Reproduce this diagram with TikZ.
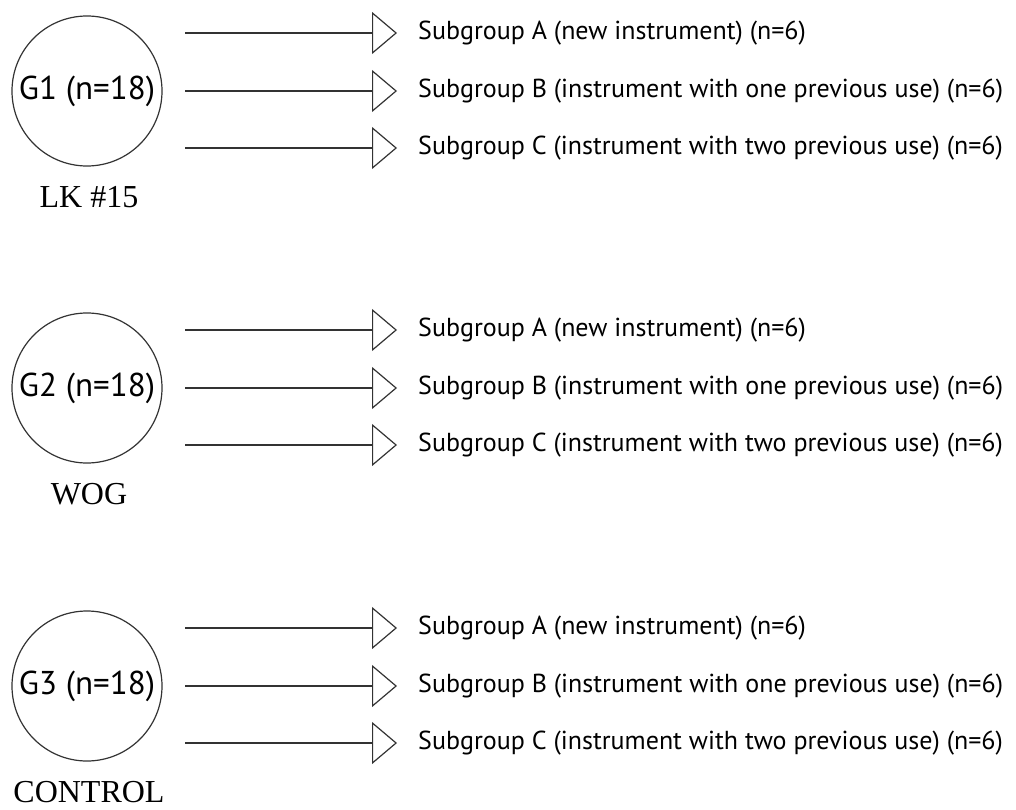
\documentclass[tikz,border=0pt]{standalone}
\usepackage{fontspec}
\setmainfont{Liberation Serif}
\newfontfamily\labsans{PT Sans}
\usetikzlibrary{arrows.meta}
\tikzset{
  grp/.style={circle, draw=black!80, line width=1.2pt, minimum size=150pt, inner sep=0pt, font=\labsans\fontsize{33}{37}\selectfont},
  sub/.style={anchor=west, inner xsep=21pt, inner ysep=0pt, font=\labsans\fontsize{26}{30}\selectfont, text=black},
  lab/.style={font=\fontsize{32}{36}\selectfont},
  arr/.style={draw=black!80, line width=1.2pt, -{Triangle[open, length=25pt, width=42pt, line width=1.2pt]}}
}
\begin{document}
\begin{tikzpicture}[x=1pt, y=-1pt]
\useasboundingbox (0,0) rectangle (1016,810);
\foreach \g/\cy/\lb in {1/91/{LK \#15}, 2/388/WOG, 3/686/CONTROL}{
  \node[grp] (g\g) at (87,\cy) {G\g{} (n=18)};
  \node[lab] (l\g) at (89,\cy+106) {\lb};
  \coordinate (sa\g) at (185,\cy-58);
  \coordinate (sb\g) at (185,\cy);
  \coordinate (sc\g) at (185,\cy+57);
  \node[sub] (ta\g) at (397,\cy-58) {Subgroup A (new instrument) (n=6)};
  \node[sub] (tb\g) at (397,\cy) {Subgroup B (instrument with one previous use) (n=6)};
  \node[sub] (tc\g) at (397,\cy+57) {Subgroup C (instrument with two previous use) (n=6)};
  \draw[arr] (sa\g) -- (ta\g.west);
  \draw[arr] (sb\g) -- (tb\g.west);
  \draw[arr] (sc\g) -- (tc\g.west);
}
\end{tikzpicture}
\end{document}
